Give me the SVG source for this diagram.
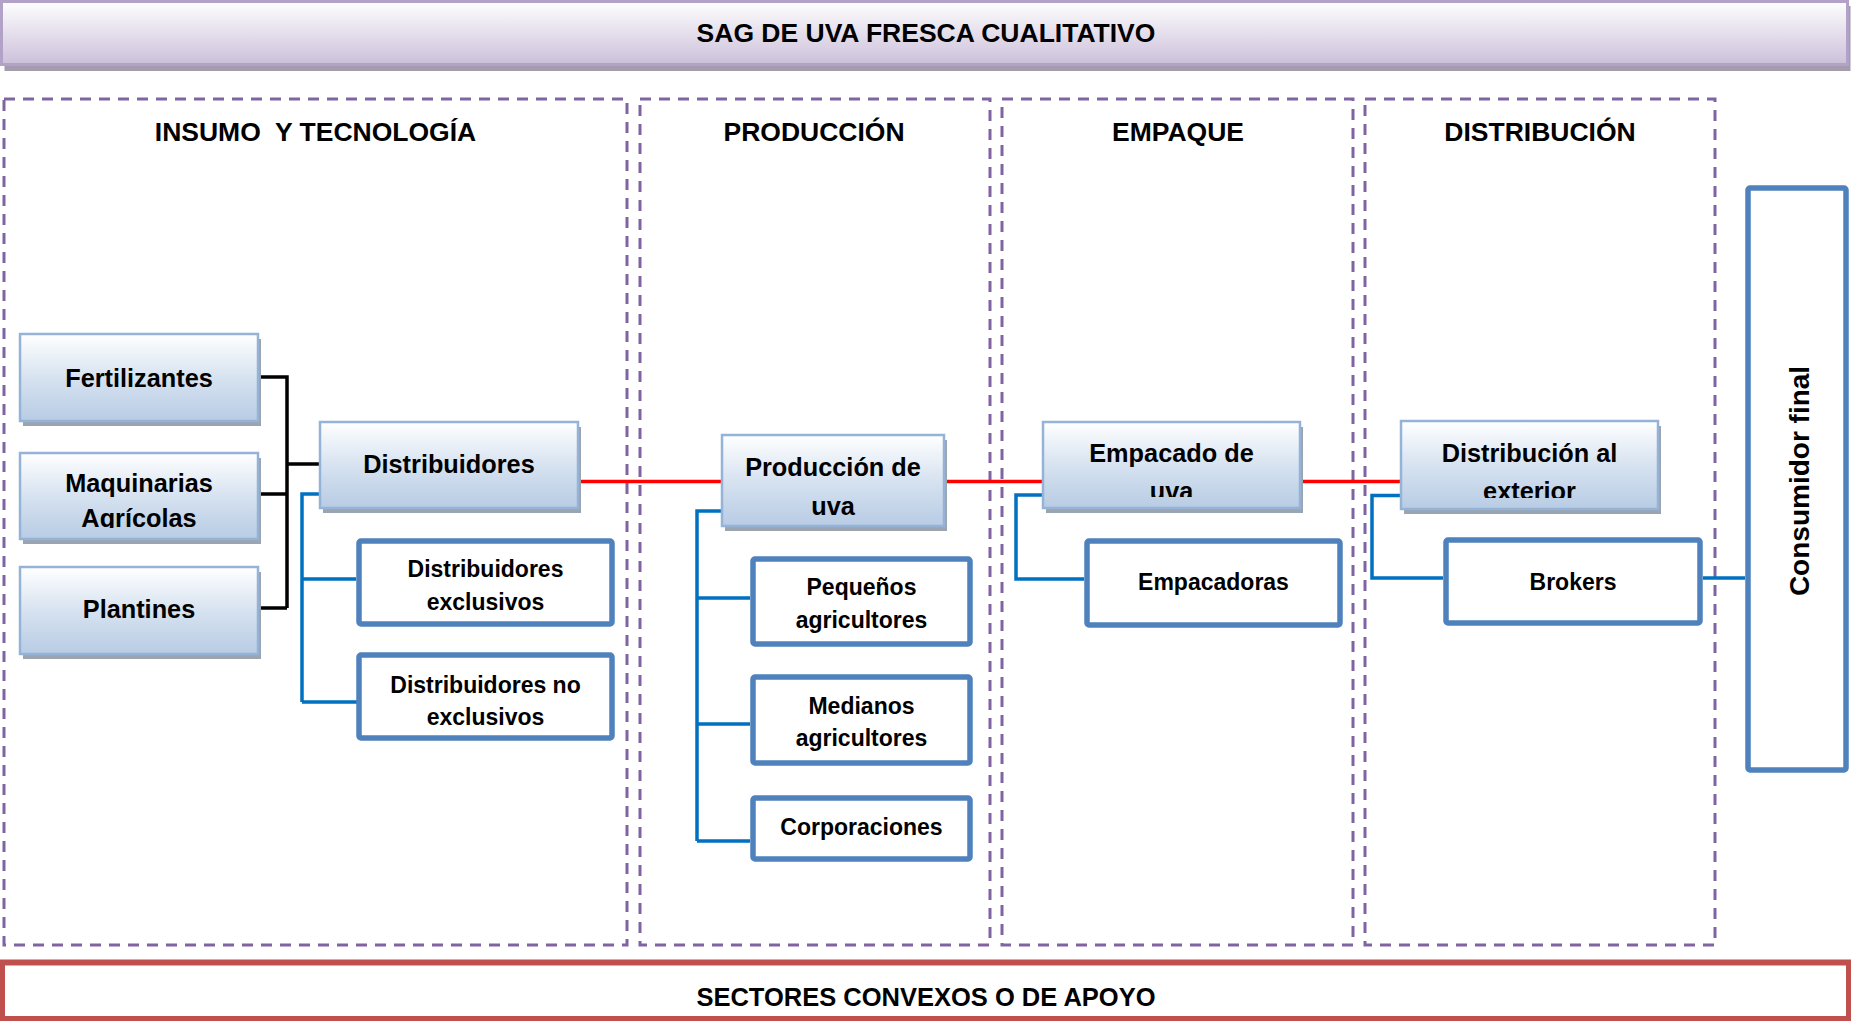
<svg xmlns="http://www.w3.org/2000/svg" width="1851" height="1021" viewBox="0 0 1851 1021">
<defs>
<linearGradient id="gBox" x1="0" y1="0" x2="0" y2="1">
<stop offset="0" stop-color="#ffffff"/>
<stop offset="0.55" stop-color="#d3e0ef"/>
<stop offset="1" stop-color="#b8cce4"/>
</linearGradient>
<linearGradient id="gTitle" x1="0" y1="0" x2="0" y2="1">
<stop offset="0" stop-color="#fefefe"/>
<stop offset="1" stop-color="#ccc0da"/>
</linearGradient>
<clipPath id="cMaq"><rect x="20" y="453" width="238" height="75"/></clipPath>
<clipPath id="cProd"><rect x="722" y="435" width="222" height="82"/></clipPath>
<clipPath id="cEmp"><rect x="1043" y="422" width="257" height="75"/></clipPath>
<clipPath id="cDist"><rect x="1401" y="421" width="257" height="77"/></clipPath>
</defs>
<style>
text{font-family:"Liberation Sans",Arial,sans-serif;font-weight:bold;fill:#000;text-anchor:middle}
.hdr{font-size:26.5px;white-space:pre}
.t1{font-size:25.3px}
.t2{font-size:23px}
.panel{fill:none;stroke:#8064a2;stroke-width:3;stroke-dasharray:11 8}
.gb{fill:url(#gBox);stroke:#95b3d7;stroke-width:2.5}
.sh{fill:#9ba4b1}
.wb{fill:#fff;stroke:#4f81bd;stroke-width:5.5}
.blue{fill:none;stroke:#0070c0;stroke-width:3.5}
.black{fill:none;stroke:#000;stroke-width:3.5}
.red{fill:none;stroke:#ff0000;stroke-width:3.5}
</style>
<rect width="1851" height="1021" fill="#fff"/>

<g id="title">
<rect x="4.5" y="6" width="1846" height="65" fill="#a49cad"/>
<rect x="1.5" y="1.5" width="1846" height="63" fill="url(#gTitle)" stroke="#b3a2c7" stroke-width="3"/>
<text class="hdr" x="926" y="42">SAG DE UVA FRESCA CUALITATIVO</text>
</g>

<g id="panels">
<g id="panel-insumo"><rect class="panel" x="4" y="99" width="623" height="846"/><text class="hdr" x="315.5" y="141">INSUMO  Y TECNOLOGÍA</text></g>
<g id="panel-produccion"><rect class="panel" x="640" y="99" width="350" height="846"/><text class="hdr" x="814" y="141">PRODUCCIÓN</text></g>
<g id="panel-empaque"><rect class="panel" x="1002" y="99" width="351" height="846"/><text class="hdr" x="1178" y="141">EMPAQUE</text></g>
<g id="panel-distribucion"><rect class="panel" x="1365" y="99" width="350" height="846"/><text class="hdr" x="1540" y="141">DISTRIBUCIÓN</text></g>
</g>

<g id="connectors">
<path class="red" d="M578,481.5 H1401"/>
<path class="black" d="M258,377 H287 V608 M258,494 H287 M258,608 H287 M287,464 H320"/>
<path class="blue" d="M320,494 H302 V702 M302,579 H356 M302,702 H357"/>
<path class="blue" d="M722,511 H697 V841 M697,598 H750 M697,724 H750 M697,841 H750"/>
<path class="blue" d="M1043,495 H1016 V579 H1084"/>
<path class="blue" d="M1401,495.5 H1372 V578 H1443"/>
<path class="blue" d="M1703,578 H1745"/>
</g>

<g id="fertilizantes">
<rect class="sh" x="23" y="339" width="238" height="87"/>
<rect class="gb" x="20" y="334" width="238" height="87"/>
<text class="t1" x="139" y="387">Fertilizantes</text>
</g>
<g id="maquinarias">
<rect class="sh" x="23" y="458" width="238" height="86"/>
<rect class="gb" x="20" y="453" width="238" height="86"/>
<g clip-path="url(#cMaq)"><text class="t1" x="139" y="492">Maquinarias</text><text class="t1" x="139" y="527">Agrícolas</text></g>
</g>
<g id="plantines">
<rect class="sh" x="23" y="572" width="238" height="87"/>
<rect class="gb" x="20" y="567" width="238" height="87"/>
<text class="t1" x="139" y="618">Plantines</text>
</g>
<g id="distribuidores">
<rect class="sh" x="323" y="427" width="258" height="86"/>
<rect class="gb" x="320" y="422" width="258" height="86"/>
<text class="t1" x="449" y="473">Distribuidores</text>
</g>
<g id="dist-exclusivos">
<rect class="wb" x="359" y="541" width="253" height="83" rx="2"/>
<text class="t2" x="485.5" y="577">Distribuidores</text>
<text class="t2" x="485.5" y="610">exclusivos</text>
</g>
<g id="dist-no-exclusivos">
<rect class="wb" x="359" y="655" width="253" height="83" rx="2"/>
<text class="t2" x="485.5" y="693">Distribuidores no</text>
<text class="t2" x="485.5" y="725">exclusivos</text>
</g>

<g id="produccion">
<rect class="sh" x="725" y="440" width="222" height="91"/>
<rect class="gb" x="722" y="435" width="222" height="91"/>
<g clip-path="url(#cProd)"><text class="t1" x="833" y="476">Producción de</text><text class="t1" x="833" y="515">uva</text></g>
</g>
<g id="pequenos">
<rect class="wb" x="753" y="559" width="217" height="85" rx="2"/>
<text class="t2" x="861.5" y="595">Pequeños</text>
<text class="t2" x="861.5" y="628">agricultores</text>
</g>
<g id="medianos">
<rect class="wb" x="753" y="677" width="217" height="86" rx="2"/>
<text class="t2" x="861.5" y="714">Medianos</text>
<text class="t2" x="861.5" y="746">agricultores</text>
</g>
<g id="corporaciones">
<rect class="wb" x="753" y="798" width="217" height="61" rx="2"/>
<text class="t2" x="861.5" y="835">Corporaciones</text>
</g>

<g id="empacado">
<rect class="sh" x="1046" y="427" width="257" height="86"/>
<rect class="gb" x="1043" y="422" width="257" height="86"/>
<g clip-path="url(#cEmp)"><text class="t1" x="1171.5" y="462">Empacado de</text><text class="t1" x="1171.5" y="500">uva</text></g>
</g>
<g id="empacadoras">
<rect class="wb" x="1087" y="541" width="253" height="84" rx="2"/>
<text class="t2" x="1213.5" y="590">Empacadoras</text>
</g>

<g id="distribucion-exterior">
<rect class="sh" x="1404" y="426" width="257" height="88"/>
<rect class="gb" x="1401" y="421" width="257" height="88"/>
<g clip-path="url(#cDist)"><text class="t1" x="1529.5" y="462">Distribución al</text><text class="t1" x="1529.5" y="500">exterior</text></g>
</g>
<g id="brokers">
<rect class="wb" x="1446" y="540" width="254" height="83" rx="2"/>
<text class="t2" x="1573" y="590">Brokers</text>
</g>

<g id="consumidor">
<rect class="wb" x="1748" y="188" width="98" height="582" rx="2"/>
<text transform="translate(1809,481) rotate(-90)" x="0" y="0" style="font-size:28px">Consumidor final</text>
</g>

<g id="sectores">
<rect x="2" y="962.5" width="1847" height="56.5" fill="#fff" stroke="#c0504d" stroke-width="6"/>
<text class="t1" x="926" y="1006" style="font-size:25.5px">SECTORES CONVEXOS O DE APOYO</text>
</g>
</svg>
